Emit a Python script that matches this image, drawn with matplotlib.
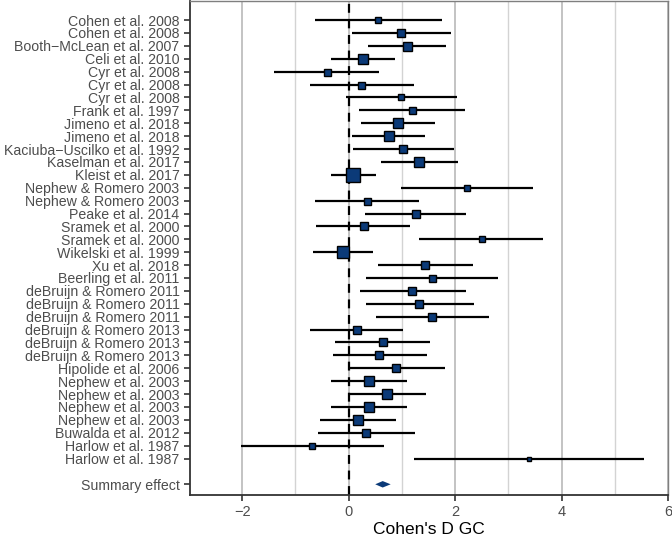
import matplotlib
matplotlib.use("Agg")
import matplotlib.pyplot as plt
import numpy as np

plt.rcParams["font.family"] = ["Liberation Sans", "DejaVu Sans"]

studies = ["Cohen et al. 2008", "Cohen et al. 2008", "Booth\u2212McLean et al. 2007",
           "Celi et al. 2010", "Cyr et al. 2008", "Cyr et al. 2008", "Cyr et al. 2008",
           "Frank et al. 1997", "Jimeno et al. 2018", "Jimeno et al. 2018",
           "Kaciuba\u2212Uscilko et al. 1992", "Kaselman et al. 2017", "Kleist et al. 2017",
           "Nephew & Romero 2003", "Nephew & Romero 2003", "Peake et al. 2014",
           "Sramek et al. 2000", "Sramek et al. 2000", "Wikelski et al. 1999",
           "Xu et al. 2018", "Beerling et al. 2011", "deBruijn & Romero 2011",
           "deBruijn & Romero 2011", "deBruijn & Romero 2011", "deBruijn & Romero 2013",
           "deBruijn & Romero 2013", "deBruijn & Romero 2013", "Hipolide et al. 2006",
           "Nephew et al. 2003", "Nephew et al. 2003", "Nephew et al. 2003",
           "Nephew et al. 2003", "Buwalda et al. 2012", "Harlow et al. 1987",
           "Harlow et al. 1987"]
est = [0.55, 0.99, 1.09, 0.27, -0.41, 0.24, 0.98, 1.19, 0.93, 0.75, 1.03, 1.33, 0.09,
       2.23, 0.35, 1.26, 0.28, 2.50, -0.11, 1.44, 1.56, 1.20, 1.33, 1.57, 0.15, 0.64,
       0.58, 0.89, 0.38, 0.72, 0.38, 0.17, 0.33, -0.68, 3.38]
lo = [-0.64, 0.06, 0.36, -0.34, -1.40, -0.73, -0.04, 0.19, 0.23, 0.07, 0.09, 0.60, -0.34,
      0.99, -0.64, 0.31, -0.61, 1.33, -0.67, 0.56, 0.32, 0.21, 0.32, 0.52, -0.73, -0.26,
      -0.29, 0.00, -0.33, -0.01, -0.33, -0.54, -0.58, -2.03, 1.23]
hi = [1.76, 1.92, 1.83, 0.88, 0.58, 1.23, 2.03, 2.19, 1.63, 1.43, 1.98, 2.06, 0.52,
      3.47, 1.33, 2.21, 1.16, 3.66, 0.45, 2.34, 2.81, 2.20, 2.35, 2.63, 1.02, 1.53,
      1.47, 1.81, 1.09, 1.45, 1.09, 0.89, 1.24, 0.66, 5.55]
weight = [36, 56, 81, 100, 49, 49, 42, 49, 90, 100, 64, 90, 196, 42, 49, 64, 64, 42,
          144, 72, 49, 64, 64, 64, 64, 64, 64, 72, 100, 100, 100, 100, 72, 42, 25]
summary_label = "Summary effect"
summary_est, summary_lo, summary_hi = 0.64, 0.50, 0.79

navy = "#0B3A78"
grey = "#4D4D4D"

fig = plt.figure(figsize=(6.72, 5.4), dpi=100)
ax = fig.add_axes([190 / 672, 45 / 540, 478 / 672, 494 / 540])

n = len(studies)
ypos = np.arange(n, 0, -1) + 2.0
ysum = 1.0

# grid
for g in [-2, 0, 2, 4, 6]:
    ax.axvline(g, color="#BEBEBE", lw=1.3, zorder=0)
for g in [-1, 1, 3, 5]:
    ax.axvline(g, color="#D3D3D3", lw=1.0, zorder=0)
ax.axvline(0, color="black", lw=1.6, ls=(0, (4, 3)), zorder=1)

for y, e, l, h, w in zip(ypos, est, lo, hi, weight):
    ax.plot([l, h], [y, y], color="black", lw=1.6, zorder=2, solid_capstyle="butt")
    ax.plot(e, y, marker="s", ms=0.72 * np.sqrt(w), mfc=navy, mec="black",
            mew=1.0, zorder=3)

dh = 0.25
ax.fill([summary_lo, summary_est, summary_hi, summary_est],
        [ysum, ysum + dh, ysum, ysum - dh], color=navy, zorder=3, lw=0)

ax.set_xlim(-2.98, 5.98)
ax.set_ylim(ysum - 0.83, ypos[0] + 1.48)
ax.set_xticks([-2, 0, 2, 4, 6])
ax.set_xticklabels(["\u22122", "0", "2", "4", "6"])
ax.set_yticks(list(ypos) + [ysum])
ax.set_yticklabels(studies + [summary_label])

for s in ["left", "bottom"]:
    ax.spines[s].set_color("#333333")
    ax.spines[s].set_linewidth(1.3)
for s in ["top", "right"]:
    ax.spines[s].set_color("#7F7F7F")
    ax.spines[s].set_linewidth(1.0)

ax.tick_params(axis="both", colors="#333333", width=1.2, length=4.5,
               labelcolor=grey, labelsize=10.2, pad=3)
ax.tick_params(axis="x", labelsize=10.5)
ax.set_xlabel("Cohen's D GC", fontsize=12.5, labelpad=2)

fig.savefig("out.png", dpi=100)
